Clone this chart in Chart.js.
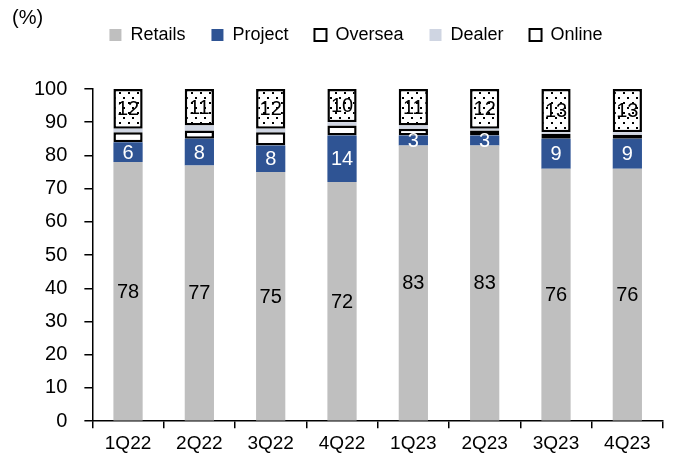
<!DOCTYPE html>
<html lang="en">
<head>
    <meta charset="UTF-8">
    <title>Sales Channel Mix</title>
    <script src="https://cdn.jsdelivr.net/npm/chart.js"></script>
    <style>
        body {
            margin: 0;
            background-color: #ffffff;
        }
        .chart-container {
            width: 675px;
            height: 461px;
        }
    </style>
</head>
<body>

<div class="chart-container">
    <canvas id="mixChart"></canvas>
</div>

<script>
    // Quarterly channel share (%)
    const quarters = ['1Q22', '2Q22', '3Q22', '4Q22', '1Q23', '2Q23', '3Q23', '4Q23'];
    const retails = [78, 77, 75, 72, 83, 83, 76, 76];
    const project = [6, 8, 8, 14, 3, 3, 9, 9];
    const oversea = [3, 2.5, 4, 3, 2, 1.5, 1.5, 1.2];
    const dealer = [1, 1.5, 1, 1, 1, 0.5, 0.5, 0.8];
    const online = [12, 11, 12, 10, 11, 12, 13, 13];
    const yTicks = [0, 10, 20, 30, 40, 50, 60, 70, 80, 90, 100];

    const FONT = 'Arial, "Liberation Sans", sans-serif';

    // dotted fill for the Online segments
    function dotPattern() {
        const c = document.createElement('canvas');
        c.width = 9;
        c.height = 10;
        const g = c.getContext('2d');
        g.fillStyle = '#ffffff';
        g.fillRect(0, 0, 9, 10);
        g.fillStyle = '#000000';
        g.fillRect(2, 2, 2, 2);
        g.fillRect(6, 7, 2, 2);
        return g.createPattern(c, 'repeat');
    }
    const ctx = document.getElementById('mixChart').getContext('2d');
    const dots = dotPattern();

    // labels inside the segments
    const valueLabels = {
        id: 'valueLabels',
        afterDatasetsDraw(chart) {
            const c = chart.ctx;
            const colors = { 0: '#000000', 1: '#ffffff', 4: '#000000' };
            c.save();
            c.font = '20px ' + FONT;
            c.textAlign = 'center';
            c.textBaseline = 'middle';
            Object.keys(colors).forEach(i => {
                const meta = chart.getDatasetMeta(i);
                const data = chart.data.datasets[i].data;
                meta.data.forEach((bar, j) => {
                    c.fillStyle = colors[i];
                    c.fillText(Math.round(data[j]), bar.x, (bar.y + bar.base) / 2 + 1);
                });
            });
            c.restore();
        }
    };

    // "(%)" unit text, extra space under the legend, legend nudged right
    const unitText = {
        id: 'unitText',
        beforeInit(chart) {
            const fit = chart.legend.fit;
            chart.legend.fit = function () {
                fit.bind(chart.legend)();
                this.height += 35;
            };
        },
        afterLayout(chart) {
            chart.legend.left += 16;
            chart.legend.right += 16;
        },
        afterDraw(chart) {
            const c = chart.ctx;
            c.save();
            c.font = '20px ' + FONT;
            c.fillStyle = '#000000';
            c.textBaseline = 'middle';
            c.fillText('(%)', 12, 18);
            c.restore();
        }
    };

    new Chart(ctx, {
        type: 'bar',
        data: {
            labels: quarters,
            datasets: [
                { label: 'Retails', data: retails, backgroundColor: '#bfbfbf', borderWidth: 0 },
                { label: 'Project', data: project, backgroundColor: '#2f5494', borderWidth: 0 },
                { label: 'Oversea', data: oversea, backgroundColor: '#ffffff', borderColor: '#000000', borderWidth: 2.5, borderSkipped: false },
                { label: 'Dealer', data: dealer, backgroundColor: '#cfd5e2', borderWidth: 0 },
                { label: 'Online', data: online, backgroundColor: dots, borderColor: '#000000', borderWidth: 2.5, borderSkipped: false }
            ].map(ds => Object.assign(ds, { barPercentage: 0.41, categoryPercentage: 1 }))
        },
        options: {
            responsive: true,
            maintainAspectRatio: false,
            animation: false,
            layout: {
                padding: { top: 0, left: 17, right: 12, bottom: 2 }
            },
            plugins: {
                legend: {
                    position: 'top',
                    labels: {
                        color: '#000000',
                        font: { family: FONT, size: 18 },
                        boxWidth: 12,
                        boxHeight: 12,
                        padding: 26,
                        generateLabels(chart) {
                            return chart.data.datasets.map((ds, i) => ({
                                text: ds.label,
                                fillStyle: i === 4 ? '#ffffff' : ds.backgroundColor,
                                strokeStyle: '#000000',
                                lineWidth: (i === 2 || i === 4) ? 2 : 0,
                                datasetIndex: i
                            }));
                        }
                    }
                },
                tooltip: { enabled: false }
            },
            scales: {
                x: {
                    stacked: true,
                    border: { color: '#000000', width: 1.5 },
                    grid: { display: true, drawOnChartArea: false, offset: true, color: '#000000', lineWidth: 1.5, tickLength: 7 },
                    ticks: { color: '#000000', font: { family: FONT, size: 19 }, padding: 4 }
                },
                y: {
                    stacked: true,
                    min: 0,
                    max: 100,
                    afterBuildTicks(axis) {
                        axis.ticks = yTicks.map(v => ({ value: v }));
                    },
                    border: { color: '#000000', width: 1.5 },
                    grid: { display: true, drawOnChartArea: false, color: '#000000', lineWidth: 1.5, tickLength: 8 },
                    ticks: { color: '#000000', font: { family: FONT, size: 20 }, padding: 17 }
                }
            }
        },
        plugins: [valueLabels, unitText]
    });
</script>

</body>
</html>
